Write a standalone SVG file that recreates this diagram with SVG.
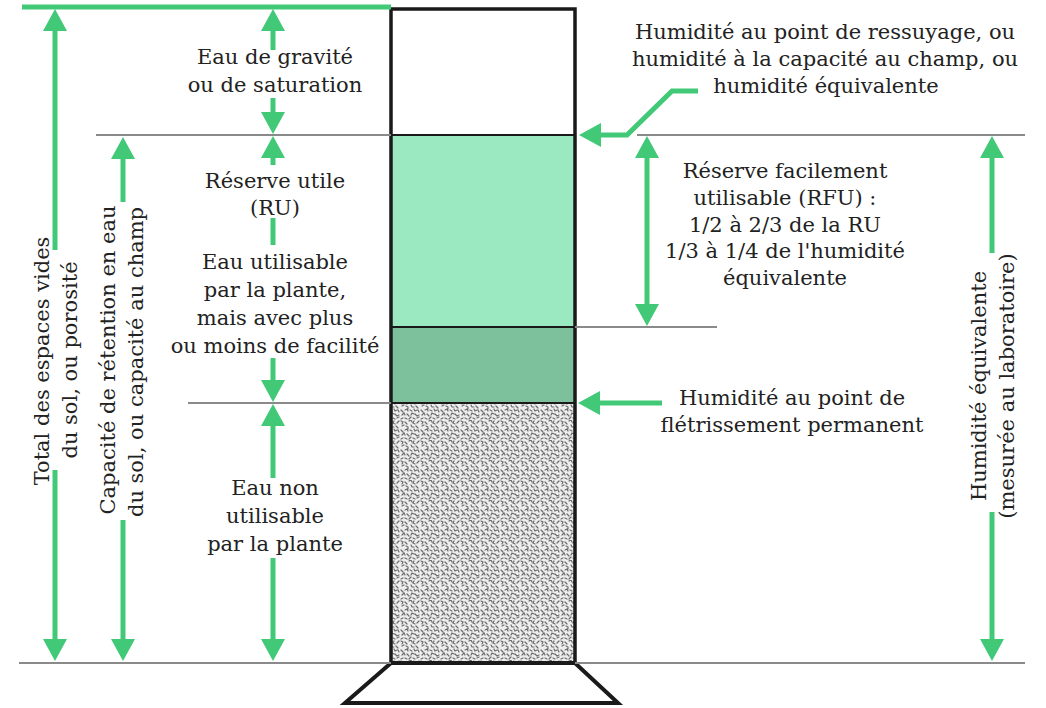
<svg xmlns="http://www.w3.org/2000/svg" width="1046" height="708" viewBox="0 0 1046 708">
<defs>
<style>
.t{font-family:"DejaVu Serif","Liberation Serif",serif;font-size:21px;fill:#222;text-anchor:middle}
.g{stroke:#8a8a8a;stroke-width:2;fill:none}
.a{stroke:#41c978;stroke-width:5;fill:none}
.ah{marker-end:url(#ah)}
.ah2{marker-start:url(#ah);marker-end:url(#ah)}
.blk{stroke:#1a1a1a;fill:none}
</style>
<marker id="ah" viewBox="0 0 22 24" markerWidth="22" markerHeight="24" refX="0" refY="12" orient="auto-start-reverse" markerUnits="userSpaceOnUse">
<path d="M0,0 L22,12 L0,24 z" fill="#41c978"/>
</marker>
<pattern id="stip" width="20" height="20" patternUnits="userSpaceOnUse">
<rect width="20" height="20" fill="#eeeeee"/>
<path d="M1,1 l2,1 l-1,2 M5,2 l2,2 M9,1 l2,-1 l1,2 M14,1 l-1,2 l2,1 M17,3 l2,-2 M2,6 l2,-1 M6,6 l2,1 l0,2 M11,5 l1,2 l2,0 M16,6 l2,2 M1,10 l2,2 M5,10 l2,-1 l1,2 M10,10 l2,1 M14,9 l1,2 l2,-1 M18,10 l1,2 M2,15 l2,-2 l1,2 M7,14 l2,2 M11,15 l1,-2 l2,1 M15,14 l2,2 l2,-1 M1,19 l2,-1 M5,18 l2,1 M9,19 l2,-2 M13,18 l2,1 M17,18 l2,-1" stroke="#6c6c6c" stroke-width="1.2" fill="none" stroke-linecap="round"/>
</pattern>
</defs>
<rect width="1046" height="708" fill="#ffffff"/>

<g id="column">
<rect x="391" y="135" width="184" height="192" fill="#9ae9c1"/>
<rect x="391" y="327" width="184" height="76" fill="#7dc09c"/>
<rect x="391" y="403" width="184" height="260" fill="url(#stip)"/>
<line class="blk" x1="391" y1="135" x2="575" y2="135" stroke-width="2"/>
<line class="blk" x1="391" y1="327" x2="575" y2="327" stroke-width="2"/>
<line class="blk" x1="391" y1="403" x2="575" y2="403" stroke-width="2"/>
<rect class="blk" x="391" y="9" width="184" height="654" stroke-width="3.5"/>
<path d="M391,663 L575,663 L618,703 L345,703 Z" fill="#fff" stroke="#1a1a1a" stroke-width="4" stroke-linejoin="miter"/>
</g>

<g id="levels">
<line x1="22" y1="7" x2="391" y2="7" stroke="#41c978" stroke-width="5"/>
<line class="g" x1="96" y1="135" x2="391" y2="135"/>
<line class="g" x1="637" y1="135" x2="1025" y2="135"/>
<line class="g" x1="575" y1="327" x2="717" y2="327"/>
<line class="g" x1="188" y1="403" x2="391" y2="403"/>
<line class="g" x1="19" y1="663" x2="391" y2="663"/>
<line class="g" x1="575" y1="663" x2="1025" y2="663"/>
</g>

<g id="connectors">
<line class="a ah" x1="55" y1="250" x2="55" y2="31"/>
<line class="a ah" x1="55" y1="470" x2="55" y2="639"/>
<line class="a ah" x1="123" y1="202" x2="123" y2="159"/>
<line class="a ah" x1="123" y1="520" x2="123" y2="639"/>
<line class="a ah" x1="273" y1="50" x2="273" y2="31"/>
<line class="a ah" x1="273" y1="98" x2="273" y2="112"/>
<line class="a ah" x1="273" y1="165" x2="273" y2="158"/>
<line class="a" x1="273" y1="218" x2="273" y2="245"/>
<line class="a ah" x1="273" y1="358" x2="273" y2="380"/>
<line class="a ah" x1="273" y1="478" x2="273" y2="426"/>
<line class="a ah" x1="273" y1="558" x2="273" y2="639"/>
<line class="a ah2" x1="647" y1="158" x2="647" y2="304"/>
<line class="a ah" x1="992" y1="253" x2="992" y2="158"/>
<line class="a ah" x1="992" y1="512" x2="992" y2="639"/>
<path class="a ah" d="M698,91 L672,91 L627,135 L601,135" stroke-linejoin="miter"/>
<line class="a ah" x1="662" y1="403" x2="600" y2="403"/>
</g>

<g id="porosite">
<text class="t" transform="translate(49,361) rotate(-90)">Total des espaces vides</text>
<text class="t" transform="translate(77,360) rotate(-90)">du sol, ou porosité</text>
</g>
<g id="capacite-retention">
<text class="t" transform="translate(115,360) rotate(-90)">Capacité de rétention en eau</text>
<text class="t" transform="translate(143,362) rotate(-90)">du sol, ou capacité au champ</text>
</g>
<g id="eau-gravite">
<text class="t" x="275" y="64">Eau de gravité</text>
<text class="t" x="275" y="92">ou de saturation</text>
</g>
<g id="reserve-utile">
<text class="t" x="275" y="188">Réserve utile</text>
<text class="t" x="275" y="215">(RU)</text>
</g>
<g id="eau-utilisable">
<text class="t" x="275" y="269">Eau utilisable</text>
<text class="t" x="275" y="297">par la plante,</text>
<text class="t" x="275" y="325">mais avec plus</text>
<text class="t" x="275" y="353">ou moins de facilité</text>
</g>
<g id="eau-non-utilisable">
<text class="t" x="275" y="495">Eau non</text>
<text class="t" x="275" y="523">utilisable</text>
<text class="t" x="275" y="551">par la plante</text>
</g>
<g id="ressuyage">
<text class="t" x="825" y="39">Humidité au point de ressuyage, ou</text>
<text class="t" x="825" y="66">humidité à la capacité au champ, ou</text>
<text class="t" x="826" y="93">humidité équivalente</text>
</g>
<g id="rfu">
<text class="t" x="785" y="178">Réserve facilement</text>
<text class="t" x="785" y="205">utilisable (RFU) :</text>
<text class="t" x="785" y="232">1/2 à 2/3 de la RU</text>
<text class="t" x="785" y="258">1/3 à 1/4 de l'humidité</text>
<text class="t" x="785" y="285">équivalente</text>
</g>
<g id="fletrissement">
<text class="t" x="792" y="405">Humidité au point de</text>
<text class="t" x="792" y="432">flétrissement permanent</text>
</g>
<g id="humidite-equivalente">
<text class="t" transform="translate(986,386) rotate(-90)">Humidité équivalente</text>
<text class="t" transform="translate(1014,386) rotate(-90)">(mesurée au laboratoire)</text>
</g>
</svg>
